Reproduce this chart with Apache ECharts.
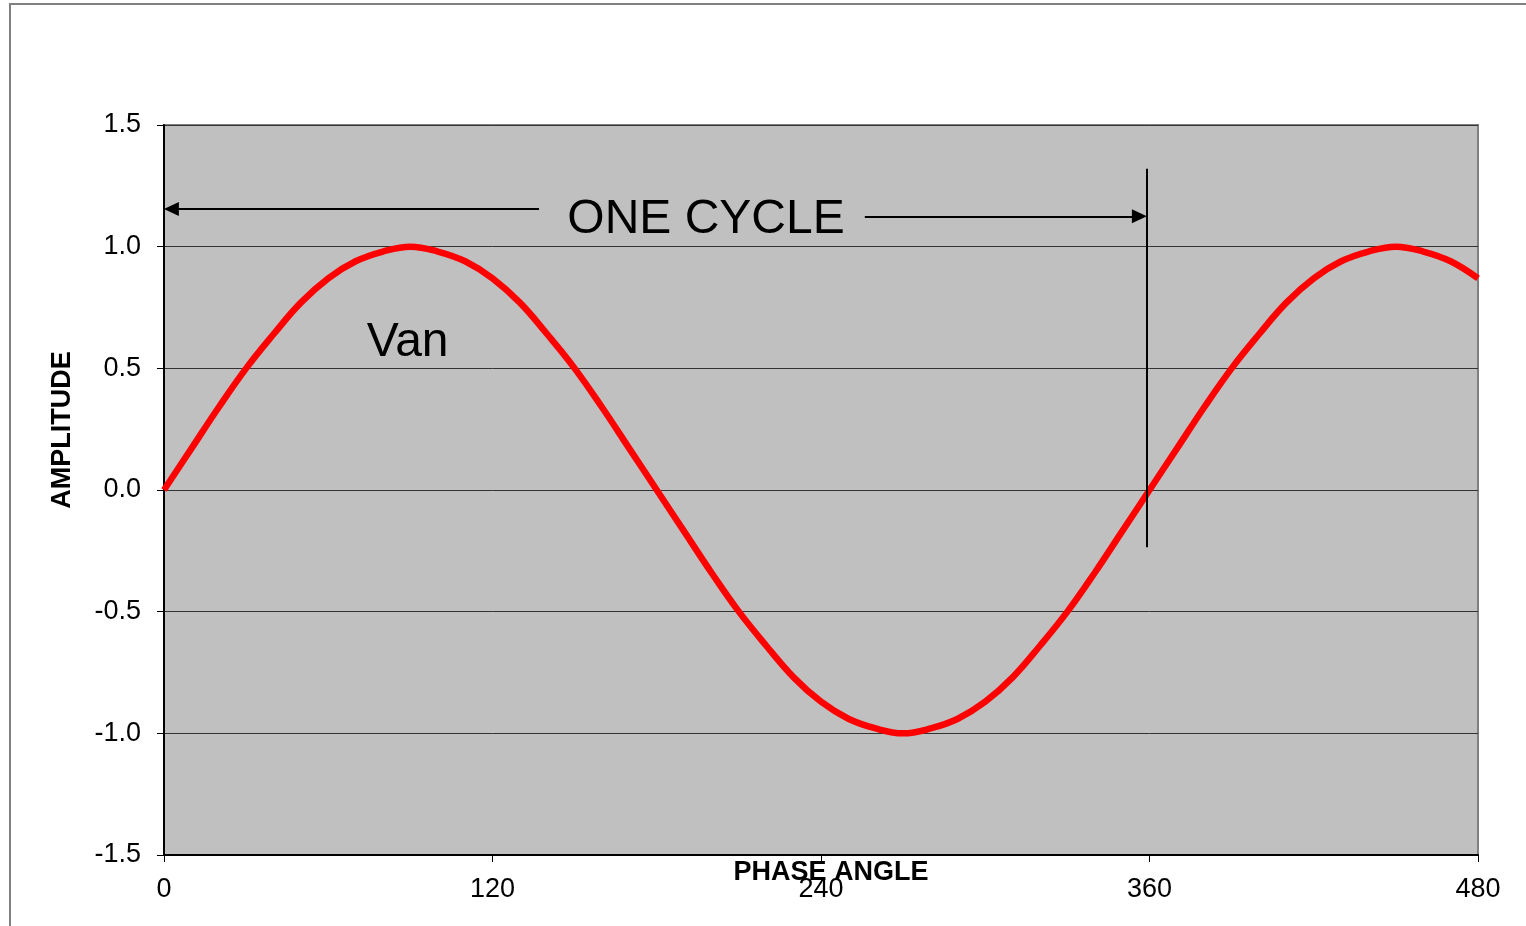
<!DOCTYPE html>
<html>
<head>
<meta charset="utf-8">
<title>Van - one cycle</title>
<script src="https://cdn.jsdelivr.net/npm/echarts@6/dist/echarts.min.js"></script>
<style>
  html, body { margin: 0; padding: 0; background: #fff; }
  #chart { width: 1526px; height: 926px; }
</style>
</head>
<body>
<div id="chart"></div>
<script>
// phase angle (degrees) and amplitude
var phaseAngles = [0, 10, 20, 30, 40, 50, 60, 70, 80, 90, 100, 110, 120, 130, 140, 150, 160, 170,
  180, 190, 200, 210, 220, 230, 240, 250, 260, 270, 280, 290, 300, 310, 320, 330, 340, 350,
  360, 370, 380, 390, 400, 410, 420, 430, 440, 450, 460, 470, 480];
var amplitudes = [0, 0.17, 0.34, 0.5, 0.64, 0.77, 0.87, 0.94, 0.98, 1.0, 0.98, 0.94, 0.87, 0.77, 0.64, 0.5, 0.34, 0.17,
  0, -0.17, -0.34, -0.5, -0.64, -0.77, -0.87, -0.94, -0.98, -1.0, -0.98, -0.94, -0.87, -0.77, -0.64, -0.5, -0.34, -0.17,
  0, 0.17, 0.34, 0.5, 0.64, 0.77, 0.87, 0.94, 0.98, 1.0, 0.98, 0.94, 0.87];

var xTicks = [0, 120, 240, 360, 480];
var yTicks = [-1.5, -1.0, -0.5, 0.0, 0.5, 1.0, 1.5];

// "one cycle" annotation (data coordinates)
var cycleStart = 0;
var cycleEnd = 359;
var arrowHalf = 2.7; // triangle head is centred on its end point, pull it back by half its length
var leftArrowFrom = 137;
var leftArrowY = 1.155;
var rightArrowFrom = 256;
var rightArrowY = 1.125;
var markerTop = 1.32;
var markerBottom = -0.235;

var labelTexts = ['ONE CYCLE', 'Van'];
var labelX = [198, 89];
var labelY = [1.11, 0.605];

var chart = echarts.init(document.getElementById('chart'));

var seriesData = phaseAngles.map(function (a, i) { return [a, amplitudes[i]]; });

var option = {
  animation: false,
  textStyle: { fontFamily: 'Liberation Sans, Arial, sans-serif' },
  grid: {
    left: 164,
    right: 48,
    top: 125,
    bottom: 71,
    outerBoundsMode: 'none',
    containLabel: false,
    show: true,
    backgroundColor: '#c0c0c0',
    borderColor: '#808080',
    borderWidth: 2
  },
  graphic: [{
    type: 'rect',
    z: -10,
    shape: { x: 10, y: 4, width: 1600, height: 1000 },
    style: { fill: 'none', stroke: '#808080', lineWidth: 2 }
  }],
  xAxis: {
    type: 'value',
    min: xTicks[0],
    max: xTicks[xTicks.length - 1],
    interval: 120,
    name: 'PHASE ANGLE',
    nameLocation: 'middle',
    nameGap: 4,
    nameMoveOverlap: false,
    nameTextStyle: { color: '#000', fontSize: 27, fontWeight: 'bold', padding: [0, 0, 0, 20] },
    axisLine: { onZero: false, lineStyle: { color: '#000', width: 2 } },
    axisTick: { show: true, length: 7, lineStyle: { color: '#000', width: 1 } },
    axisLabel: { color: '#000', fontSize: 27, margin: 21 },
    splitLine: { show: false }
  },
  yAxis: {
    type: 'value',
    min: yTicks[0],
    max: yTicks[yTicks.length - 1],
    interval: 0.5,
    name: 'AMPLITUDE',
    nameLocation: 'middle',
    nameGap: 88,
    nameMoveOverlap: false,
    nameTextStyle: { color: '#000', fontSize: 27, fontWeight: 'bold', padding: [0, 0, 0, 120] },
    axisLine: { show: true, lineStyle: { color: '#000', width: 2 } },
    axisTick: { show: true, length: 7, lineStyle: { color: '#000', width: 1 } },
    axisLabel: {
      color: '#000',
      fontSize: 27,
      margin: 23,
      formatter: function (v) { return v.toFixed(1); }
    },
    splitLine: { show: true, lineStyle: { color: '#333', width: 1 } }
  },
  series: [{
    name: 'Van',
    type: 'line',
    data: seriesData,
    smooth: 0.4,
    showSymbol: false,
    lineStyle: { color: '#ff0000', width: 6.5 },
    z: 3,
    markLine: {
      silent: true,
      symbol: ['none', 'triangle'],
      symbolSize: [14, 15],
      label: { show: false },
      lineStyle: { color: '#000', width: 2, type: 'solid' },
      data: [
        [{ coord: [leftArrowFrom, leftArrowY] }, { coord: [cycleStart + arrowHalf, leftArrowY] }],
        [{ coord: [rightArrowFrom, rightArrowY] }, { coord: [cycleEnd - arrowHalf, rightArrowY] }],
        [{ coord: [cycleEnd, markerTop], symbol: 'none' }, { coord: [cycleEnd, markerBottom], symbol: 'none' }]
      ]
    }
  }, {
    name: 'labels',
    type: 'scatter',
    symbolSize: 0,
    silent: true,
    z: 4,
    itemStyle: { opacity: 1, color: 'transparent' },
    data: labelTexts.map(function (t, i) {
      return {
        name: t,
        value: [labelX[i], labelY[i]],
        label: {
          show: true,
          position: 'inside',
          formatter: '{b}',
          color: '#000',
          opacity: 1,
          fontSize: 48
        }
      };
    })
  }]
};

chart.setOption(option);
</script>
</body>
</html>
